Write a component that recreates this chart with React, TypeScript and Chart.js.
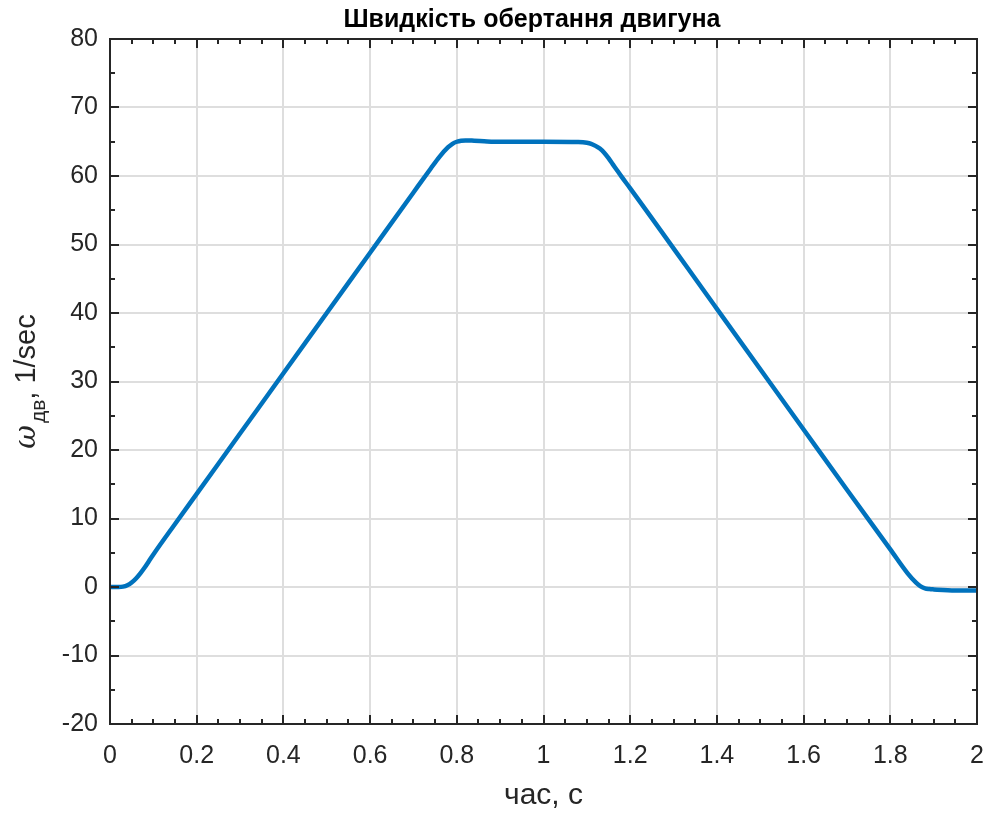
import { useEffect, useRef } from 'react';
import { Chart, registerables } from 'chart.js';

Chart.register(...registerables);

// ---- data ----
const TITLE = 'Швидкість обертання двигуна';
const X_LABEL = 'час, с';
const Y_LABEL_SYMBOL = 'ω';
const Y_LABEL_SUB = 'дв';
const Y_LABEL_REST = ', 1/sec';

const timeSec = [
  0, 0.01, 0.02, 0.03, 0.04, 0.05, 0.06, 0.07, 0.08, 0.09, 0.1, 0.15, 0.2, 0.3, 0.4, 0.5, 0.6, 0.7,
  0.74, 0.76, 0.78, 0.79, 0.8, 0.81, 0.82, 0.84, 0.87, 0.9, 1.0, 1.08, 1.1, 1.11, 1.12, 1.13, 1.14,
  1.15, 1.16, 1.17, 1.18, 1.2, 1.4, 1.6, 1.7, 1.8, 1.84, 1.86, 1.87, 1.88, 1.89, 1.9, 1.95, 2.0,
];
const omegaMotor = [
  0, 0, 0, 0.05, 0.25, 0.65, 1.25, 2.0, 2.85, 3.8, 4.75, 9.2, 13.6, 22.4, 31.2, 40.0, 48.8, 57.6,
  61.1, 62.8, 64.2, 64.7, 65.0, 65.15, 65.2, 65.15, 65.05, 65.0, 65.0, 64.95, 64.85, 64.7, 64.4, 64.0, 63.4,
  62.6, 61.7, 60.8, 59.9, 58.2, 40.6, 23.0, 14.2, 5.5, 2.0, 0.6, 0.1, -0.2, -0.3, -0.35, -0.5, -0.5,
];

const X_MIN = 0;
const X_MAX = 2;
const X_MAJOR = 0.2;
const X_MINOR = 0.05;
const Y_MIN = -20;
const Y_MAX = 80;
const Y_MAJOR = 10;
const Y_MINOR = 5;

// ---- style ----
const FONT = '"Liberation Sans", Arial, Helvetica, sans-serif';
const AXIS_COLOR = '#262626';
const LINE_COLOR = '#0072BD';
const GRID_COLOR = '#dedede';

const framePlugin = {
  id: 'matlabFrame',
  afterDraw(chart: any) {
    const { ctx, chartArea: a, scales } = chart;
    const x = scales.x;
    const y = scales.y;
    ctx.save();
    ctx.strokeStyle = AXIS_COLOR;
    ctx.lineWidth = 2;
    ctx.lineCap = 'butt';
    const seg = (x1: number, y1: number, x2: number, y2: number) => {
      ctx.beginPath();
      ctx.moveTo(x1, y1);
      ctx.lineTo(x2, y2);
      ctx.stroke();
    };
    const nx = Math.round((X_MAX - X_MIN) / X_MINOR);
    const rx = Math.round(X_MAJOR / X_MINOR);
    for (let i = 0; i <= nx; i++) {
      const px = Math.round(x.getPixelForValue(X_MIN + i * X_MINOR));
      const len = i % rx === 0 ? 9 : 5;
      seg(px, a.bottom, px, a.bottom - len);
      seg(px, a.top, px, a.top + len);
    }
    const ny = Math.round((Y_MAX - Y_MIN) / Y_MINOR);
    const ry = Math.round(Y_MAJOR / Y_MINOR);
    for (let i = 0; i <= ny; i++) {
      const py = Math.round(y.getPixelForValue(Y_MIN + i * Y_MINOR));
      const len = i % ry === 0 ? 9 : 5;
      seg(a.left, py, a.left + len, py);
      seg(a.right, py, a.right - len, py);
    }
    ctx.strokeRect(a.left, a.top, a.right - a.left, a.bottom - a.top);

    // title
    ctx.fillStyle = '#000';
    ctx.font = `bold 25px ${FONT}`;
    ctx.textAlign = 'center';
    ctx.textBaseline = 'alphabetic';
    ctx.fillText(TITLE, 532, 27);

    // x label
    ctx.fillStyle = AXIS_COLOR;
    ctx.font = `30px ${FONT}`;
    ctx.fillText(X_LABEL, (a.left + a.right) / 2, 804);

    // y label (rotated, with subscript)
    const mainFont = `29px ${FONT}`;
    const symFont = `italic 29px "DejaVu Serif", "Liberation Serif", serif`;
    const subFont = `21px ${FONT}`;
    ctx.font = symFont;
    const w1 = ctx.measureText(Y_LABEL_SYMBOL).width;
    ctx.font = subFont;
    const w2 = ctx.measureText(Y_LABEL_SUB).width;
    ctx.font = mainFont;
    const w3 = ctx.measureText(Y_LABEL_REST).width;
    const total = w1 + 2 + w2 + w3;
    ctx.translate(35, (a.top + a.bottom) / 2);
    ctx.rotate(-Math.PI / 2);
    ctx.textAlign = 'left';
    let cx = -total / 2;
    ctx.font = symFont;
    ctx.fillText(Y_LABEL_SYMBOL, cx, 0);
    cx += w1 + 2;
    ctx.font = subFont;
    ctx.fillText(Y_LABEL_SUB, cx, 10);
    cx += w2;
    ctx.font = mainFont;
    ctx.fillText(Y_LABEL_REST, cx, 0);
    ctx.restore();
  },
};

export default function App() {
  const canvasRef = useRef<HTMLCanvasElement | null>(null);

  useEffect(() => {
    if (!canvasRef.current) return;
    const points = timeSec.map((t, i) => ({ x: t, y: omegaMotor[i] }));
    const chart = new Chart(canvasRef.current, {
      type: 'line',
      data: {
        datasets: [
          {
            data: points,
            borderColor: LINE_COLOR,
            borderWidth: 4.5,
            pointRadius: 0,
            fill: false,
            cubicInterpolationMode: 'monotone',
            borderJoinStyle: 'round',
            borderCapStyle: 'round',
          },
        ],
      },
      options: {
        animation: false,
        responsive: false,
        events: [],
        layout: { padding: { top: 39, right: 11, bottom: 0, left: 0 } },
        plugins: {
          legend: { display: false },
          tooltip: { enabled: false },
          title: { display: false },
        },
        scales: {
          x: {
            type: 'linear',
            min: X_MIN,
            max: X_MAX,
            afterFit: (s: any) => {
              s.height = 90;
              s.paddingLeft = 0;
              s.paddingRight = 0;
            },
            border: { display: false },
            grid: { color: GRID_COLOR, lineWidth: 2, drawTicks: false },
            ticks: {
              stepSize: X_MAJOR,
              autoSkip: false,
              maxRotation: 0,
              padding: 17,
              color: AXIS_COLOR,
              font: { family: FONT, size: 25 },
              callback: (v: any) => String(Number(Number(v).toFixed(2))),
            },
          },
          y: {
            type: 'linear',
            min: Y_MIN,
            max: Y_MAX,
            afterFit: (s: any) => {
              s.width = 110;
              s.paddingTop = 0;
              s.paddingBottom = 0;
            },
            border: { display: false },
            grid: { color: GRID_COLOR, lineWidth: 2, drawTicks: false },
            ticks: {
              stepSize: Y_MAJOR,
              autoSkip: false,
              padding: 12,
              color: AXIS_COLOR,
              font: { family: FONT, size: 25 },
              callback: (v: any) => String(Math.round(Number(v))),
            },
          },
        },
      },
      plugins: [framePlugin],
    });
    return () => chart.destroy();
  }, []);

  return (
    <div style={{ position: 'fixed', left: 0, top: 0, width: 988, height: 814, background: '#fff' }}>
      <canvas ref={canvasRef} width={988} height={814} style={{ display: 'block' }} />
    </div>
  );
}
